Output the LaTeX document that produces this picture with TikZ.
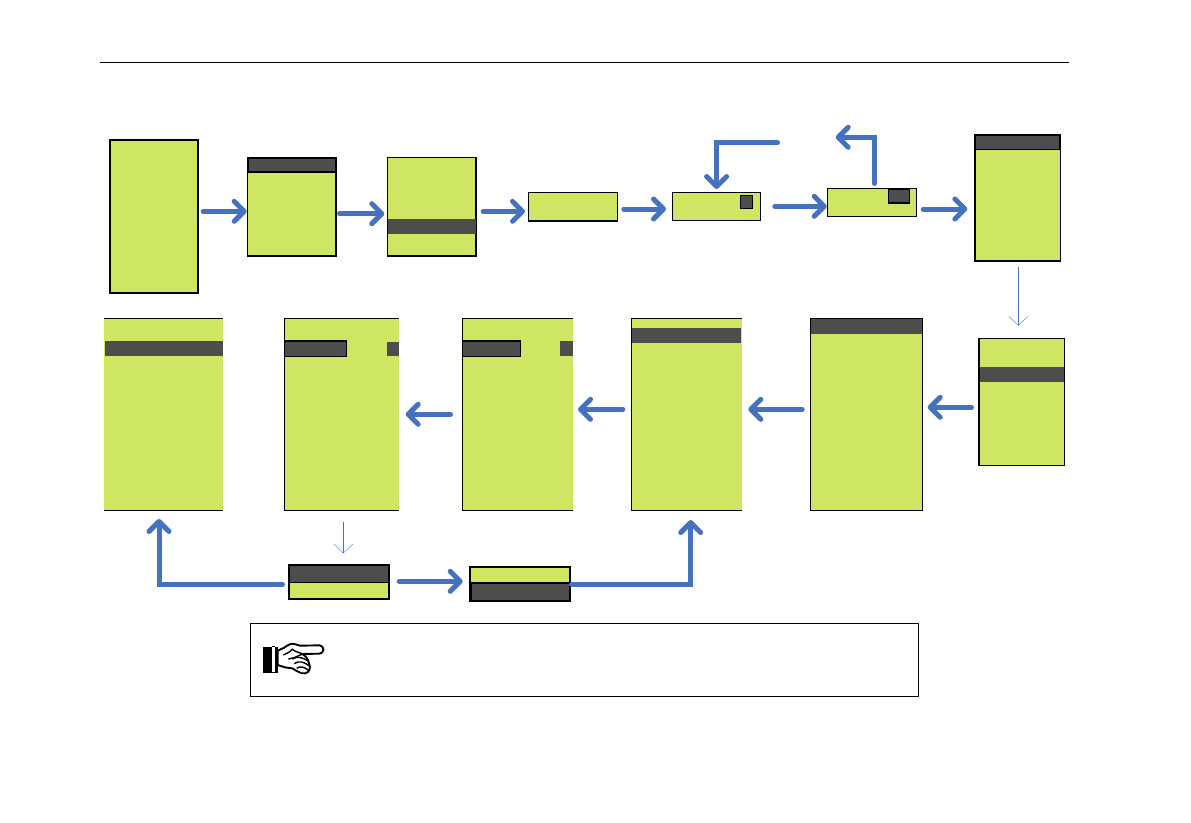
\documentclass[tikz,border=0pt]{standalone}
\usetikzlibrary{arrows.meta,calc}
\definecolor{lcdgreen}{RGB}{207,230,98}
\definecolor{lcddark}{RGB}{77,77,77}
\definecolor{flowblue}{RGB}{68,114,190}
\tikzset{
  lcd/.style={draw=black,line width=1.2pt,fill=lcdgreen,inner sep=0pt,outer sep=0pt},
  lcdthick/.style={lcd,line width=1.7pt},
  lcdopen/.style={draw=none,fill=lcdgreen,inner sep=0pt,outer sep=0pt},
  bar/.style={draw=none,fill=lcddark,inner sep=0pt,outer sep=0pt},
  barline/.style={draw=black,line width=1.2pt,fill=lcddark,inner sep=0pt,outer sep=0pt},
  edge/.style={line width=1.2pt,black,line cap=butt},
  flow/.style={draw=flowblue,line width=5pt,line cap=round,line join=miter,
    -{Straight Barb[length=10pt,width=20pt,line width=5pt,round]}},
  thinflow/.style={draw=flowblue,line width=0.7pt,
    -{Straight Barb[length=9pt,width=19pt,line width=0.35pt]}},
}
% name, x1, y1, x2, y2, style
\newcommand{\panel}[6]{\node[#6,anchor=north west,minimum width=#4pt-#2pt,minimum height=#5pt-#3pt] (#1) at (#2,#3) {};}
\begin{document}
\begin{tikzpicture}[x=1pt,y=-1pt]
\useasboundingbox (0,0) rectangle (1191,822);
\coordinate (ruleL) at (100,62.5);
\coordinate (ruleR) at (1069,62.5);
\draw[line width=0.9pt,black] (ruleL) -- (ruleR);

% top row
\panel{s1}{110}{140}{198}{293}{lcdthick}
\panel{s2}{247.7}{157.7}{336}{256}{lcd}
\panel{s2b}{248.3}{158.3}{335.4}{172}{barline}
\panel{s3}{387.5}{157.5}{476}{256}{lcd}
\panel{s3b}{388}{219}{475.5}{233.7}{bar}
\panel{s4}{528.5}{192.3}{617.5}{221}{lcd}
\panel{s5}{672.3}{192.3}{760.3}{220.3}{lcd}
\panel{s5b}{740.3}{195.3}{752.7}{208.3}{barline}
\panel{s6}{827.7}{188.3}{916.5}{216.3}{lcd}
\panel{s6b}{888.7}{189}{909.3}{203}{barline}
\panel{s7}{975}{134.7}{1060.3}{261}{lcd}
\panel{s7b}{975.6}{135.3}{1059.7}{149.3}{barline}

% middle row
\panel{m1}{104}{318.3}{223}{510.3}{lcdopen}
\panel{m1b}{105}{341}{223}{356}{bar}
\draw[edge] (m1.north west) -- (m1.north east);
\draw[edge] (m1.south west) -- (m1.south east);

\panel{m2}{284.3}{318.3}{399}{510.3}{lcdopen}
\panel{m2a}{284.3}{341}{346.7}{356.3}{barline}
\panel{m2c}{387}{342}{399}{356}{bar}
\draw[edge] (m2.north east) -- (m2.north west) -- (m2.south west) -- (m2.south east);

\panel{m3}{462.3}{318.3}{573}{510.3}{lcdopen}
\panel{m3a}{462.8}{341}{520.7}{356.3}{barline}
\panel{m3c}{560}{341}{573}{356}{bar}
\draw[edge] (m3.north east) -- (m3.north west) -- (m3.south west) -- (m3.south east);

\panel{m4}{631.7}{318.3}{742}{510.3}{lcdopen}
\panel{m4b}{631.7}{328}{741}{342.7}{bar}
\draw[edge] (m4.north east) -- (m4.north west) -- (m4.south west) -- (m4.south east);

\panel{m5}{810.7}{318.3}{922.7}{510.3}{lcd}
\panel{m5b}{811.3}{318.9}{922.1}{334}{bar}

\panel{m6}{979}{338.7}{1064.3}{465.3}{lcd}
\panel{m6b}{979.6}{367}{1063.7}{381.7}{bar}

% bottom pair
\panel{c1}{288.7}{564.7}{389.3}{599.3}{lcdthick}
\panel{c1b}{289.5}{565.5}{388.5}{582.3}{barline}
\panel{c2}{470.3}{566.7}{570.3}{601}{lcdthick}
\panel{c2b}{471.1}{583}{569.5}{600.2}{barline}

% note box
\panel{note}{250.3}{622.7}{918}{696}{draw=black,line width=1pt,fill=white,inner sep=0pt}

% hand icon, drawn in a local grid
\begin{scope}[shift={(255,635)},x=0.3333pt,y=-0.3333pt,line width=1.4pt,line join=round]
  \fill[black] (25,35) rectangle (51,113);
  \fill[black] (61,35) rectangle (68,113);
  \draw[black,line width=0.8pt] (51,35) -- (61,35);
  \draw[black,line width=0.8pt] (51,113) -- (61,113);
  \draw[fill=white,line width=1.9pt] (68,47) -- (88,38) .. controls (100,28) and (110,24) .. (122,28) -- (135,32) -- (194,31)
    .. controls (209,32) and (209,55) .. (194,56) -- (142,57)
    .. controls (152,63) and (160,72) .. (162,85) .. controls (168,98) and (164,113) .. (150,115)
    .. controls (138,117) and (125,108) .. (112,100) -- (90,97) -- (68,90) -- cycle;
  \draw (85,60) .. controls (95,55) and (105,52) .. (112,42) .. controls (118,50) and (128,50) .. (142,57);
  \draw (100,72) -- (118,68) -- (142,57);
  \draw (112,72) .. controls (125,62) and (145,68) .. (160,78);
  \draw (118,86) .. controls (130,75) and (150,82) .. (162,92);
  \draw (125,100) .. controls (135,92) and (150,96) .. (160,106);
\end{scope}

% arrows, top row
\coordinate (t1) at (0,211.3);
\coordinate (t2) at (0,213.7);
\coordinate (t3) at (0,211.3);
\coordinate (t4) at (0,209);
\coordinate (t6) at (0,206.3);
\coordinate (t8) at (0,209);
\draw[flow] ([xshift=5.2pt]s1.east |- t1) -- ([xshift=-1pt]s2.west |- t1);
\draw[flow] ([xshift=3.5pt]s2.east |- t2) -- ([xshift=-3.2pt]s3.west |- t2);
\draw[flow] ([xshift=7.2pt]s3.east |- t3) -- ([xshift=-3.5pt]s4.west |- t3);
\draw[flow] ([xshift=6.3pt]s4.east |- t4) -- ([xshift=-6.3pt]s5.west |- t4);
\draw[flow] ([xshift=14.5pt]s5.east |- t6) -- ([xshift=-1pt]s6.west |- t6);
\draw[flow] ([xshift=6.7pt]s6.east |- t8) -- ([xshift=-7.7pt]s7.west |- t8);

\coordinate (backA) at (777.5,142.7);
\coordinate (backB) at (835.7,137.3);
\draw[flow] (backA) -| ([yshift=3.3pt,xshift=0.3pt]s5.north);
\draw[flow] ([xshift=2.2pt,yshift=4.8pt]s6.north) |- (backB);

% thin arrows
\coordinate (thinAtop) at (1018.3,266.7);
\coordinate (thinAend) at (1018.3,325.7);
\coordinate (thinBtop) at (343.3,522.3);
\coordinate (thinBend) at (343.3,553.3);
\draw[thinflow] (thinAtop) -- (thinAend);
\draw[thinflow] (thinBtop) -- (thinBend);

% arrows, middle row
\coordinate (r1) at (0,407.3);
\coordinate (r2) at (0,409.3);
\coordinate (r4) at (0,414.3);
\draw[flow] ([xshift=-7.5pt]m6.west |- r1) -- ([xshift=5pt]m5.east |- r1);
\draw[flow] ([xshift=-8.5pt]m5.west |- r2) -- ([xshift=6.3pt]m4.east |- r2);
\draw[flow] ([xshift=-8.9pt]m4.west |- r2) -- ([xshift=5pt]m3.east |- r2);
\draw[flow] ([xshift=-11.8pt]m3.west |- r4) -- ([xshift=6.7pt]m2.east |- r4);

% arrows, bottom
\coordinate (b1) at (0,584.3);
\coordinate (b2) at (0,581.3);
\coordinate (upL) at (159,519);
\coordinate (upR) at (690.7,520);
\draw[flow] ([xshift=-6.2pt]c1.west |- b1) -| (upL);
\draw[flow] ([xshift=9.9pt]c1.east |- b2) -- ([xshift=-7.6pt]c2.west |- b2);
\draw[flow] ([xshift=1.2pt]c2.east |- b1) -| (upR);
\end{tikzpicture}
\end{document}
